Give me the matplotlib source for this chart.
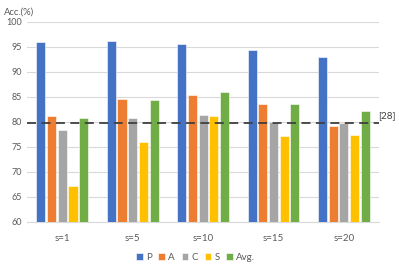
import numpy as np
import matplotlib.pyplot as plt

plt.rcParams['font.family'] = ['Lato', 'DejaVu Sans']

groups = ['s=1', 's=5', 's=10', 's=15', 's=20']
series = ['P', 'A', 'C', 'S', 'Avg.']
P = [95.9, 96.1, 95.6, 94.4, 93.0]
A = [81.1, 84.6, 85.3, 83.5, 79.1]
C = [78.3, 80.8, 81.3, 79.9, 79.8]
S = [67.2, 76.0, 81.2, 77.1, 77.3]
Avg = [80.7, 84.4, 85.9, 83.6, 82.2]
ref_value = 79.7
ref_label = '[28]'

colors = ['#4472C4', '#ED7D31', '#A5A5A5', '#FFC000', '#70AD47']

fig = plt.figure(figsize=(3.99, 2.68), dpi=100)
ax = fig.add_axes([0.068, 0.172, 0.882, 0.746])

x = np.arange(len(groups))
w = 0.152
for i, (vals, c, name) in enumerate(zip([P, A, C, S, Avg], colors, series)):
    ax.bar(x + (i - 2) * w, np.array(vals) - 60, bottom=60, width=w * 0.85,
           color=c, edgecolor='white', linewidth=0.4, label=name, zorder=3)

ax.axhline(ref_value, color='#404040', linestyle=(0, (5, 3)), linewidth=1.3, zorder=4)
ax.text(4.49, ref_value + 0.6, ref_label, fontsize=7, color='#404040', va='bottom', ha='left')

ax.set_xlim(-0.5, 4.5)
ax.set_ylim(60, 100)
ax.set_yticks(range(60, 101, 5))
ax.set_xticks(x)
ax.set_xticklabels(groups)
ax.tick_params(axis='y', length=0, labelsize=6.5, colors='#595959')
ax.tick_params(axis='x', length=0, labelsize=7, colors='#595959', pad=9)
ax.grid(axis='y', color='#D9D9D9', linewidth=0.8, zorder=0)
for s in ['top', 'right', 'left']:
    ax.spines[s].set_visible(False)
ax.spines['bottom'].set_color('#D9D9D9')

fig.text(0.01, 0.97, 'Acc.(%)', fontsize=6.8, color='#595959', va='top', ha='left')
fig.legend(loc='center', bbox_to_anchor=(0.49, 0.04), ncol=5, frameon=False,
           fontsize=7, handlelength=0.7, handleheight=0.7, handletextpad=0.3,
           columnspacing=0.7, labelcolor='#595959')

fig.savefig('out.png', dpi=100)
